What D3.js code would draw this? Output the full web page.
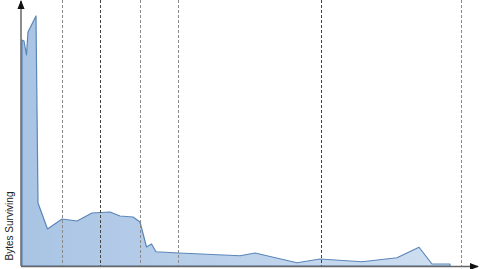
<!DOCTYPE html>
<html>
<head>
<meta charset="utf-8">
<script src="https://cdn.jsdelivr.net/npm/d3@7"></script>
<style>
  body { margin: 0; background: #fff; }
  svg { display: block; font-family: "Liberation Sans", Arial, sans-serif; }
</style>
</head>
<body>
<svg id="chart" width="480" height="269"></svg>
<script>
// time (arbitrary units) vs bytes surviving (% of peak)
const times = [1, 3, 5.5, 7, 10, 15, 17, 26.5, 41, 56, 71, 89, 99, 112, 119, 125.5, 130.5, 135,
               158, 219, 234, 276, 299, 341, 376, 398, 411, 429]
const surviving = [90.4, 90, 84.4, 93.6, 96, 100, 25.2, 14.8, 18.8, 18, 21.2, 21.6, 20, 19.6, 17.6, 7.6, 8.8, 5.7,
                   5.2, 4.1, 5.2, 1.3, 2.8, 1.7, 3.3, 7.5, 0.8, 0.8]
// marker lines (same time units), dark = major
const markers = [41, 79, 119, 157, 300, 440]
const markerMajor = [false, true, false, false, true, false]
const yLabel = "Bytes Surviving"

let svg = d3.select("#chart"),
    mLeft = 21, mRight = 478, mTop = 2, mBottom = 266

let x = d3.scaleLinear().domain([0, 457]).range([mLeft, mRight])
let y = d3.scaleLinear().domain([0, 105.6]).range([mBottom, mTop])

let data = times.map((t, i) => ({t: t, v: surviving[i]}))

let defs = svg.append("defs")
let grad = defs.append("linearGradient").attr("id", "fillgrad")
    .attr("x1", "0%").attr("x2", "100%").attr("y1", "0%").attr("y2", "0%")
grad.append("stop").attr("offset", "0%").attr("stop-color", "#a9c4e4")
grad.append("stop").attr("offset", "100%").attr("stop-color", "#cfdff1")

defs.append("marker").attr("id", "arrow")
    .attr("viewBox", "0 0 10 10").attr("refX", 9).attr("refY", 5)
    .attr("markerWidth", 6).attr("markerHeight", 6).attr("orient", "auto")
  .append("path").attr("d", "M0,1L10,5L0,9Z").attr("fill", "#111")

// area
let area = d3.area()
    .x(d => x(d.t))
    .y0(y(0))
    .y1(d => y(d.v))

svg.append("path").datum(data)
    .attr("d", area)
    .attr("fill", "url(#fillgrad)")
    .attr("stroke", "#5c86b8")
    .attr("stroke-width", 1.2)
    .attr("stroke-linejoin", "round")

// dashed markers
svg.append("g").selectAll("line").data(markers).enter().append("line")
    .attr("x1", d => Math.round(x(d)) + 0.5).attr("x2", d => Math.round(x(d)) + 0.5)
    .attr("y1", 0).attr("y2", mBottom)
    .attr("stroke", (d, i) => markerMajor[i] ? "#444" : "#8a8a8a")
    .attr("stroke-width", 1)
    .attr("stroke-dasharray", "3,2")

// axes
svg.append("line")
    .attr("x1", mLeft).attr("x2", mLeft).attr("y1", mBottom).attr("y2", 1)
    .attr("stroke", "#666").attr("stroke-width", 1.5)
    .attr("marker-end", "url(#arrow)")
svg.append("line")
    .attr("x1", mLeft).attr("x2", mRight).attr("y1", mBottom + 0.5).attr("y2", mBottom + 0.5)
    .attr("stroke", "#666").attr("stroke-width", 1.5)
    .attr("marker-end", "url(#arrow)")

svg.append("text")
    .attr("transform", "translate(13," + 226 + ")rotate(-90)")
    .attr("text-anchor", "middle")
    .attr("font-size", 10)
    .attr("fill", "#222")
    .text(yLabel)
</script>
</body>
</html>
